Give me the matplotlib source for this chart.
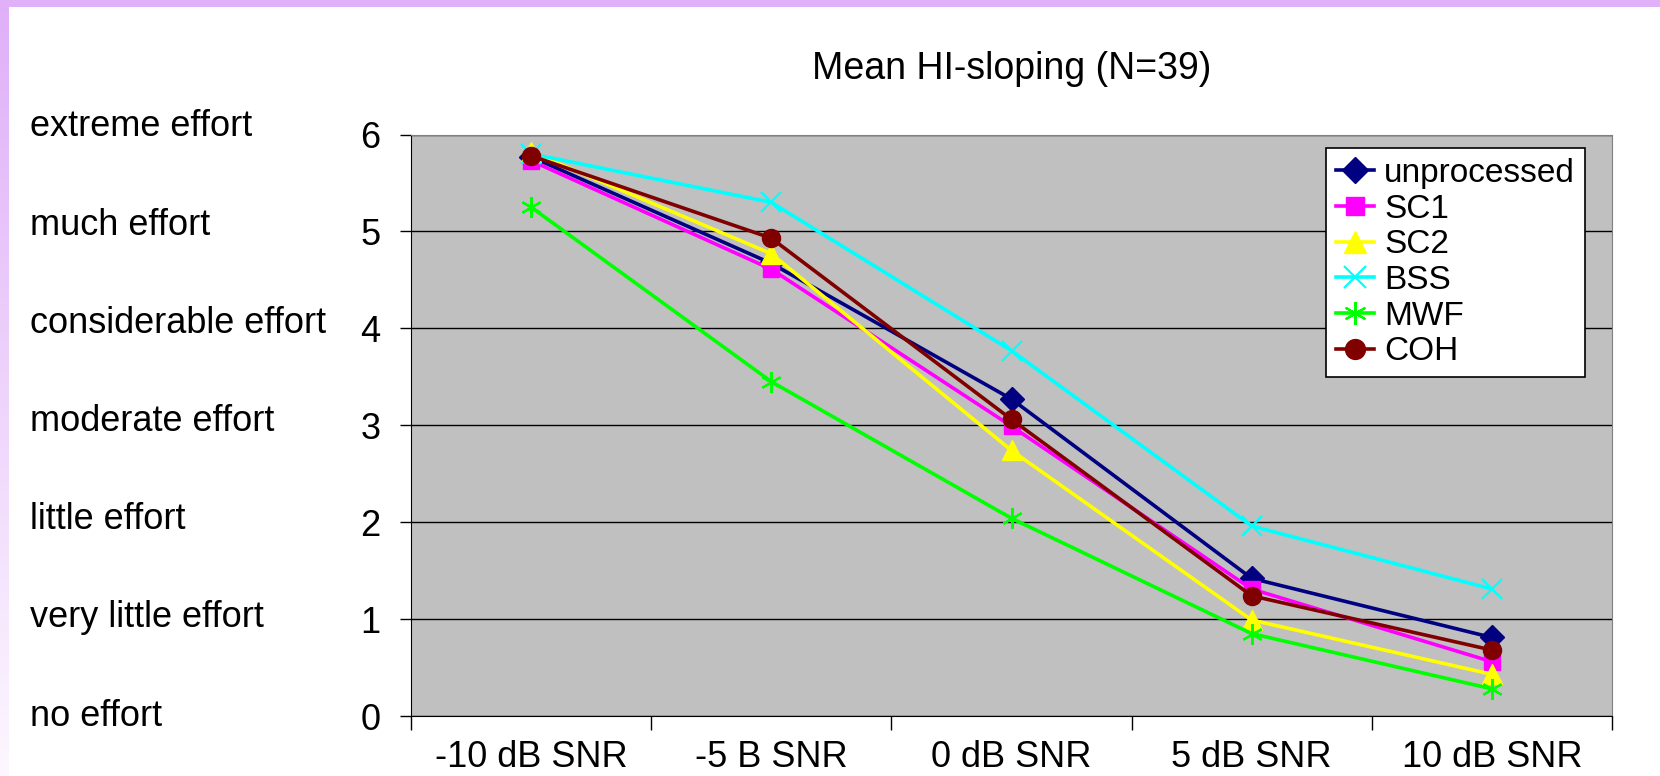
import numpy as np
import matplotlib.pyplot as plt

plt.rcParams['font.family'] = ['Liberation Sans', 'DejaVu Sans']

# Data
conditions = ['-10 dB SNR', '-5 B SNR', '0 dB SNR', '5 dB SNR', '10 dB SNR']
effort_labels = ['no effort', 'very little effort', 'little effort', 'moderate effort',
                 'considerable effort', 'much effort', 'extreme effort']

unprocessed = [5.77, 4.67, 3.27, 1.42, 0.81]
sc1 = [5.73, 4.61, 2.99, 1.31, 0.56]
sc2 = [5.82, 4.77, 2.74, 0.99, 0.43]
bss = [5.80, 5.30, 3.77, 1.96, 1.31]
mwf = [5.25, 3.45, 2.04, 0.85, 0.28]
coh = [5.78, 4.93, 3.06, 1.24, 0.68]

series = [
    ('unprocessed', unprocessed, '#000080', 'D', 12),
    ('SC1', sc1, '#FF00FF', 's', 12),
    ('SC2', sc2, '#FFFF00', '^', 14),
    ('BSS', bss, '#00FFFF', 'x', 14),
    ('MWF', mwf, '#00FF00', (6, 2, 0), 15),
    ('COH', coh, '#800000', 'o', 13),
]

fig = plt.figure(figsize=(16.6, 7.76), dpi=100)
fig.patch.set_facecolor('white')

# slide border: top band and fading left band
top = fig.add_axes([0, 1 - 7 / 776, 1, 7 / 776])
top.set_facecolor('#E0B0F8')
top.set_xticks([]); top.set_yticks([])
for s in top.spines.values():
    s.set_visible(False)
left = fig.add_axes([0, 0, 8 / 1660, 1 - 7 / 776])
grad = np.linspace(0, 1, 256).reshape(-1, 1)
c_top = np.array([0.878, 0.69, 0.973])
c_bot = np.array([0.99, 0.97, 1.0])
img = c_bot[None, None, :] * (1 - grad[:, :, None]) + c_top[None, None, :] * grad[:, :, None]
left.imshow(img, aspect='auto', origin='lower')
left.axis('off')

ax = fig.add_axes([411 / 1660, 1 - 716 / 776, (1612 - 411) / 1660, (716 - 134.5) / 776])
ax.set_facecolor('#C0C0C0')

x = np.arange(len(conditions))
for name, vals, color, marker, ms in series:
    ax.plot(x, vals, color=color, lw=2.6, marker=marker, markersize=ms,
            markeredgewidth=1.6 if marker in ('x', (6, 2, 0)) else 1,
            markerfacecolor=color, markeredgecolor=color, label=name, zorder=3)

ax.set_xlim(-0.5, len(conditions) - 0.5)
ax.set_ylim(0, 6)
ax.set_yticks(range(7))
ax.yaxis.grid(True, color='black', lw=1)
ax.set_axisbelow(True)
ax.tick_params(axis='y', labelsize=26, length=8, width=1, pad=14, direction='out')

ax.set_xticks(np.arange(-0.5, len(conditions)), [''] * (len(conditions) + 1))
ax.set_xticks(x, conditions, minor=True)
ax.tick_params(axis='x', which='major', length=10, width=1, direction='out')
ax.tick_params(axis='x', which='minor', length=0, labelsize=26, pad=17)

for side in ('top', 'right'):
    ax.spines[side].set_color('#808080')
for side in ('left', 'bottom'):
    ax.spines[side].set_color('black')

ax.set_title('Mean HI-sloping (N=39)', fontsize=27, pad=40, x=0.5)

for i, lab in enumerate(effort_labels):
    ax.annotate(lab, xy=(30 / 1660, i), xycoords=('figure fraction', 'data'),
                xytext=(0, 0.9 * i), textcoords='offset points',
                fontsize=26, ha='left', va='center')

leg = ax.legend(loc='upper right', bbox_to_anchor=(0.9775, 0.9768), borderaxespad=0,
                fontsize=24, frameon=True, fancybox=False, framealpha=1,
                edgecolor='black', handlelength=1.15, handletextpad=0.3,
                labelspacing=0.14, borderpad=0.3, markerscale=1.1)
leg.get_frame().set_linewidth(1.2)

fig.savefig('out.png', dpi=100)
